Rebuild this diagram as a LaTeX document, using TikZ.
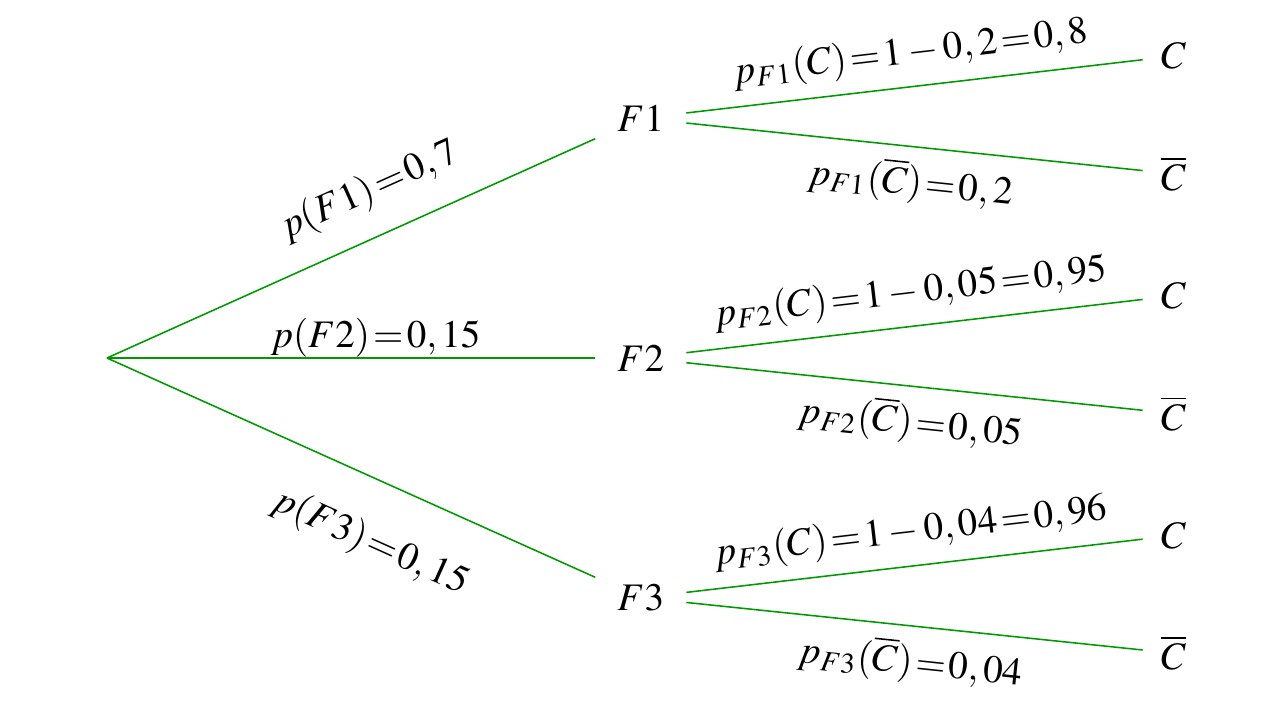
\documentclass[tikz,border=0pt]{standalone}
\usepackage{mathptmx}
\usepackage{xcolor}
\usepackage{tikz}
\thickmuskip=1.5mu

\begin{document}
\begin{tikzpicture}[
  branche/.style={draw=green!60!black},
  etat/.style={inner sep=5.5pt},
  feuille/.style={inner sep=4.5pt}]
  \useasboundingbox (-0.964,-3.244) rectangle (10.570,3.226);

  \coordinate (O) at (0,0);
  \node[etat] (F1) at (4.81,2.16) {$F1$};
  \node[etat] (F2) at (4.81,0) {$F2$};
  \node[etat] (F3) at (4.81,-2.16) {$F3$};

  \node[feuille] (C1) at (9.61,2.72) {$C$};
  \node[feuille] (Cb1) at (9.61,1.66) {$\overline{C}$};
  \node[feuille] (C2) at (9.61,0.56) {$C$};
  \node[feuille] (Cb2) at (9.61,-0.50) {$\overline{C}$};
  \node[feuille] (C3) at (9.61,-1.60) {$C$};
  \node[feuille] (Cb3) at (9.61,-2.66) {$\overline{C}$};

  % premier niveau
  \draw[branche] (O) -- node[sloped, above=3pt, pos=0.575] {$p(F1)=0,7$} (F1);
  \draw[branche] (O) -- node[above, inner sep=0pt, pos=0.55] {$p(F2)=0,15$} (F2);
  \draw[branche] (O) -- node[sloped, below=7pt, pos=0.59] {$p(F3)=0,15$} (F3);

  % second niveau
  \draw[branche] (F1) -- node[sloped, above] {$p_{F1}(C)=1-0,2=0,8$} (C1);
  \draw[branche] (F1) -- node[sloped, below] {$p_{F1}(\overline{C})=0,2$} (Cb1);
  \draw[branche] (F2) -- node[sloped, above] {$p_{F2}(C)=1-0,05=0,95$} (C2);
  \draw[branche] (F2) -- node[sloped, below] {$p_{F2}(\overline{C})=0,05$} (Cb2);
  \draw[branche] (F3) -- node[sloped, above] {$p_{F3}(C)=1-0,04=0,96$} (C3);
  \draw[branche] (F3) -- node[sloped, below] {$p_{F3}(\overline{C})=0,04$} (Cb3);

\end{tikzpicture}
\end{document}
